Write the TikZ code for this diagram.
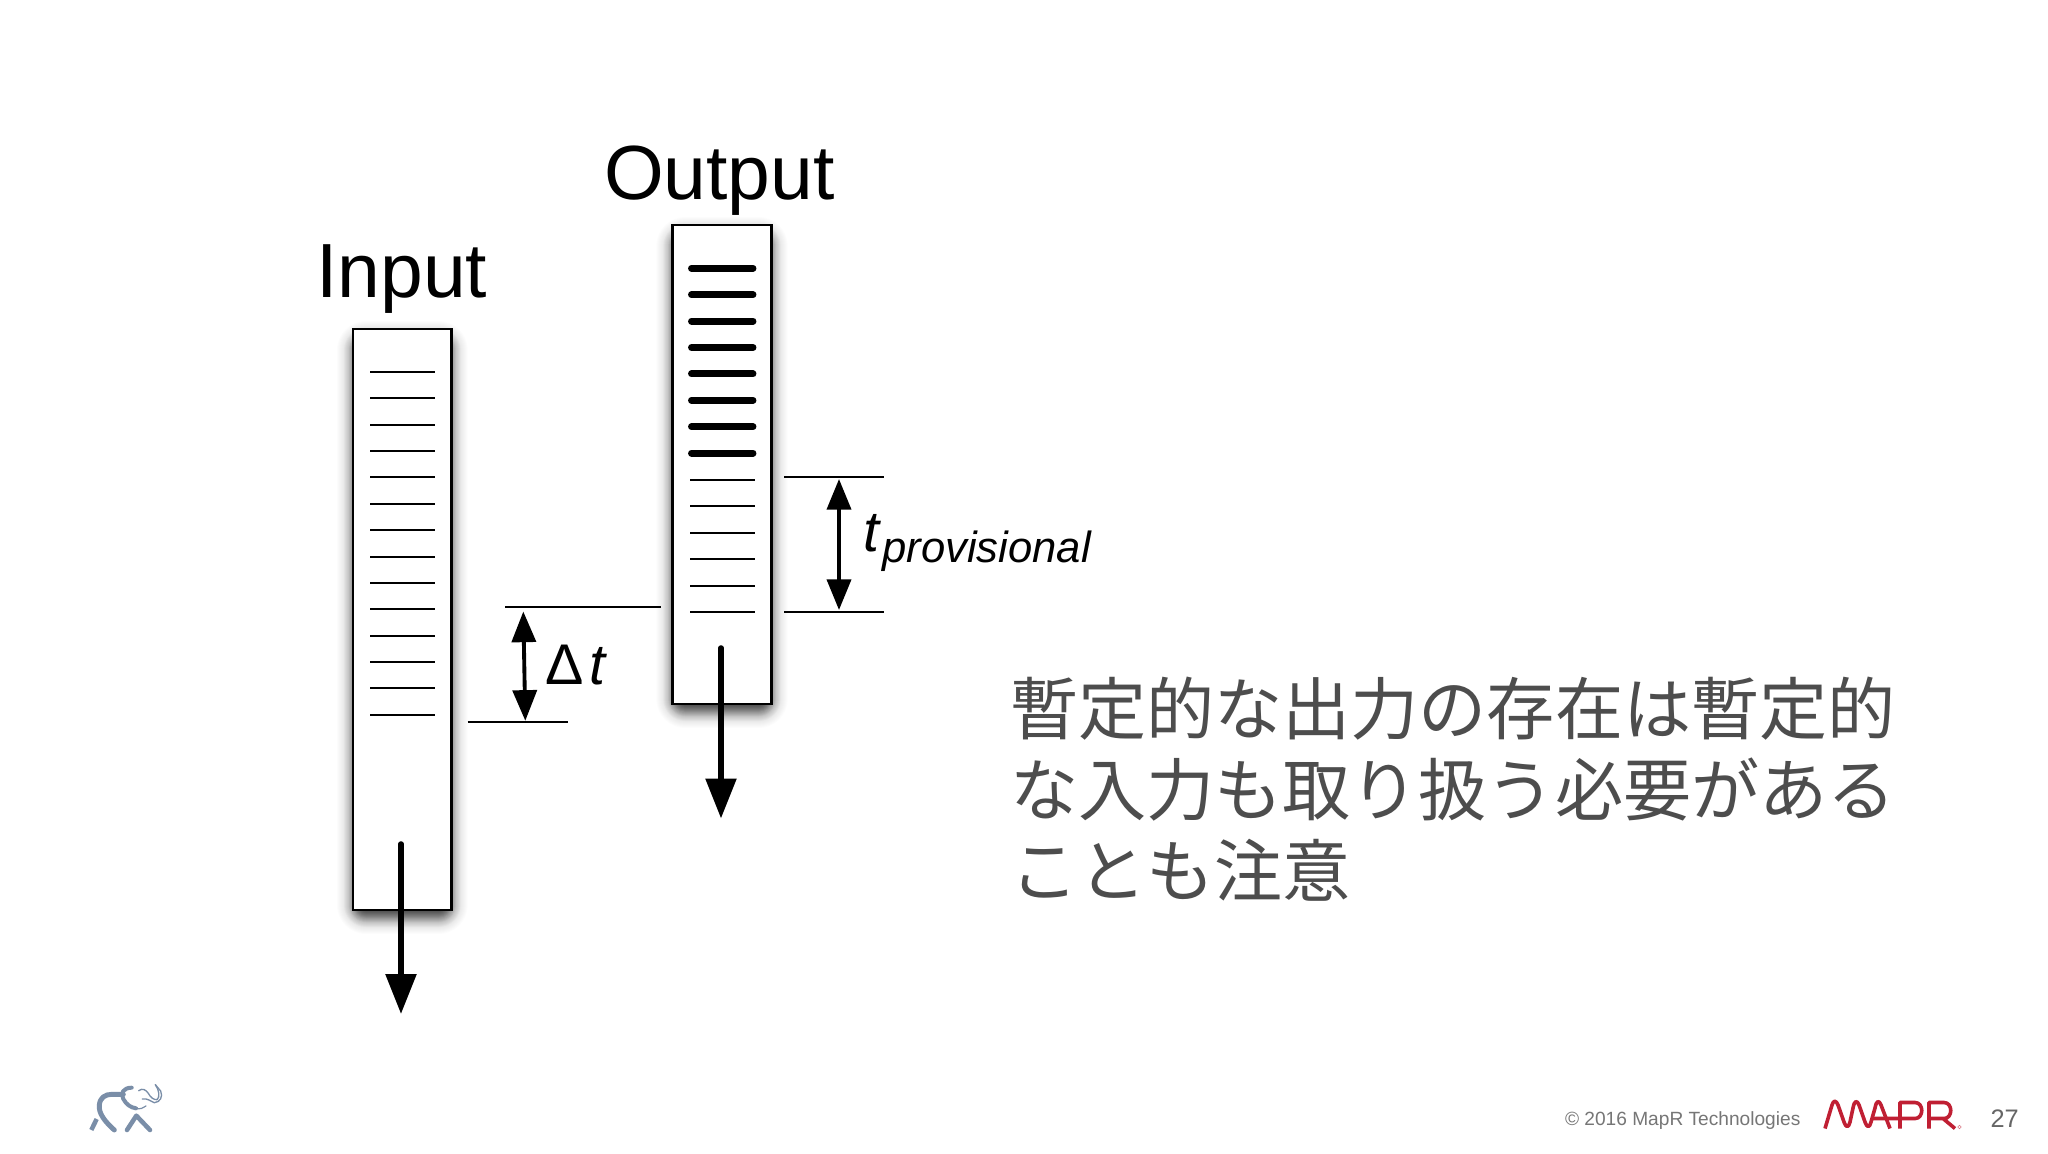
\documentclass[tikz,border=0pt]{standalone}
\usepackage{fontspec}
\setmainfont{Liberation Sans}
\newfontfamily\jpfont{Noto Sans CJK JP}
\usetikzlibrary{arrows.meta}
\definecolor{jpgrey}{HTML}{4D4D4D}
\definecolor{footgrey}{HTML}{767676}
\definecolor{numgrey}{HTML}{666666}
\definecolor{maprred}{HTML}{C01F33}
\definecolor{elephant}{HTML}{7A8EA8}
\tikzset{
  x=0.75pt,y=-0.75pt,
  txt/.style={inner sep=0pt,outer sep=0pt,anchor=base west},
  title/.style={txt,font=\fontsize{57.6}{57.6}\selectfont},
  boxline/.style={draw=black,line width=1.9pt,fill=white},
  thintick/.style={draw=black,line width=1.5pt},
  thicktick/.style={draw=black,line width=5.2pt,line cap=round},
  dimline/.style={draw=black,line width=1.5pt},
  dimarrow/.style={draw=black,line width=2.9pt,{Triangle[length=23pt,width=18pt]}-{Triangle[length=23pt,width=18pt]}},
  flowarrow/.style={draw=black,line width=4.2pt,line cap=round,-{Triangle[length=30pt,width=22.5pt]}},
  logo/.style={draw=maprred,line width=2.7pt,line join=round,fill=none},
  ele/.style={draw=elephant,line cap=round,line join=round,fill=none},
}
\begin{document}
\begin{tikzpicture}
\useasboundingbox (0,0) rectangle (2048,1153);
\fill[white] (0,0) rectangle (2048,1153);

% Shadows (soft: larger corner radius and lighter layers outwards)
\foreach \r in {16,15,...,-11}{
  \pgfmathsetmacro{\rad}{(\r+13)*0.75}
  \pgfmathsetmacro{\op}{\r>9 ? 0.012 : (\r>4 ? 0.03 : (\r>0 ? 0.06 : 0.075))}
  \fill[black,opacity=\op,rounded corners=\rad pt] (353-\r,329+8-\r) rectangle (451.7+\r,910+8+\r);
  \fill[black,opacity=\op,rounded corners=\rad pt] (672.3-\r,225+8-\r) rectangle (771.7+\r,704+8+\r);
}

% Columns
\draw[boxline] (353,329) rectangle (451.7,910);
\draw[boxline] (672.3,225) rectangle (771.7,704);

% Input ticks
\foreach \i in {0,...,13}{
  \pgfmathsetmacro{\yy}{round(371.8+\i*26.39)}
  \draw[thintick] (370,\yy) -- (434.7,\yy);
}
% Output ticks
\foreach \i in {0,...,7}{
  \draw[thicktick] (691.5,268.3+\i*26.4) -- (753,268.3+\i*26.4);
}
\foreach \i in {0,...,5}{
  \pgfmathsetmacro{\yy}{round(480+\i*26.4)}
  \draw[thintick] (690,\yy) -- (754.7,\yy);
}

% Titles
\node[title] (inputlabel) at (316.5,297.7) {Input};
\node[title] (outputlabel) at (604,199.5) {Output};

% Flow arrows
\coordinate (inS) at (401,844);
\coordinate (inE) at (401,1014);
\coordinate (outS) at (721,648);
\coordinate (outE) at (721,818.5);
\draw[flowarrow] (inS) -- (inE);
\draw[flowarrow] (outS) -- (outE);

% Delta t
\coordinate (dtA) at (505,607.3);
\coordinate (dtB) at (660.7,607.3);
\coordinate (dtC) at (467.7,722.3);
\coordinate (dtD) at (568,722.3);
\coordinate (dtT) at (523.3,611.5);
\coordinate (dtU) at (525.3,720.8);
\draw[dimline] (dtA) -- (dtB);
\draw[dimline] (dtC) -- (dtD);
\draw[dimarrow] (dtT) -- (dtU);
\node[txt,font=\fontsize{43}{43}\selectfont] (deltat) at (545,684) {Δ\hspace{5pt}\textit{t}};

% t provisional
\coordinate (tpA) at (784,477);
\coordinate (tpB) at (884,477);
\coordinate (tpC) at (784,612);
\coordinate (tpD) at (884,612);
\coordinate (tpT) at (839,479);
\coordinate (tpU) at (839,610);
\draw[dimline] (tpA) -- (tpB);
\draw[dimline] (tpC) -- (tpD);
\draw[dimarrow] (tpT) -- (tpU);
\node[txt,font=\fontsize{43}{43}\selectfont\itshape] (tlabel) at (863,551.7) {t};
\node[txt,font=\fontsize{32.7}{32.7}\selectfont\itshape] (provlabel) at (882.5,562.5) {provisional};

% Japanese text
\node[inner sep=0pt,outer sep=0pt,anchor=north west,align=left,text=jpgrey,
      font=\jpfont\fontsize{51.1}{60.6}\selectfont] (jptext) at (1010,677)
  {暫定的な出力の存在は暫定的\\な入力も取り扱う必要がある\\ことも注意};

% Footer
\node[txt,text=footgrey,font=\fontsize{14.35}{14.35}\selectfont] (copyright) at (1565,1125) {© 2016 MapR Technologies};
\node[txt,text=numgrey,font=\fontsize{19}{19}\selectfont] (pagenum) at (1990.5,1127) {27};

% MapR logo
\draw[logo] (1825,1128.5) -- (1832,1105) .. controls (1833.5,1100) and (1836,1100) .. (1838,1105)
  -- (1844,1122) .. controls (1846,1128) and (1848.5,1128) .. (1850,1122)
  -- (1853,1108) .. controls (1854.5,1100) and (1857,1100) .. (1859,1105)
  -- (1865,1122) .. controls (1867,1128) and (1869.5,1128) .. (1871,1122)
  -- (1875,1108) .. controls (1876.5,1100) and (1879,1100) .. (1881,1105) -- (1890,1128.5);
\draw[logo] (1872,1118.5) -- (1900,1118.5) (1900,1128.5) -- (1900,1102.5) -- (1915,1102.5)
  .. controls (1924,1102.5) and (1924,1118.5) .. (1915,1118.5) -- (1900,1118.5);
\draw[logo] (1929,1128.5) -- (1929,1102.5) -- (1944,1102.5)
  .. controls (1953,1102.5) and (1953,1118.5) .. (1944,1118.5) -- (1929,1118.5)
  (1943,1118.5) -- (1955,1128.5);
\draw[maprred,line width=0.4pt,opacity=.6] (1959.5,1127) circle (1.8);

% Elephant logo
\begin{scope}[shift={(80,1075)},x=0.25pt,y=-0.25pt]
  \draw[ele,line width=3.7pt] (103,165) .. controls (75,140) and (55,115) .. (58,90)
     .. controls (60,68) and (75,58) .. (95,58) -- (130,58);
  \draw[ele,line width=3.4pt,line cap=butt] (34,165) -- (50,132);
  \draw[ele,line width=3.4pt] (141,165) -- (169,122) -- (210,165);
  \draw[ele,line width=3pt] (155,38) .. controls (130,38) and (120,55) .. (130,72)
     .. controls (140,90) and (152,97) .. (168,100);
  \draw[ele,line width=0.9pt] (168,100) .. controls (180,103) and (190,100) .. (198,93);
  \draw[ele,line width=1pt] (176,47) .. controls (188,38) and (198,45) .. (205,55)
     .. controls (212,68) and (222,75) .. (231,74)
     .. controls (240,68) and (238,45) .. (226,29);
  \draw[ele,line width=1pt] (187,72) .. controls (205,70) and (210,78) .. (223,83)
     .. controls (240,82) and (250,65) .. (242,48) -- (226,29);
\end{scope}
\end{tikzpicture}
\end{document}
